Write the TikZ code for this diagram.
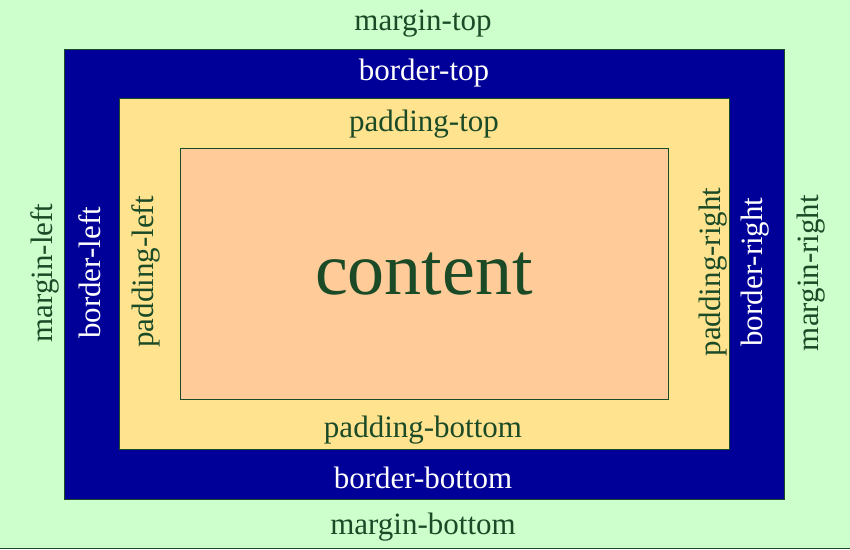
\documentclass[tikz,border=0pt]{standalone}
\usepackage{fontspec}
\setmainfont{Liberation Serif}
\definecolor{marginbg}{HTML}{CCFFCC}
\definecolor{borderbg}{HTML}{000099}
\definecolor{paddingbg}{HTML}{FFE38F}
\definecolor{contentbg}{HTML}{FFCC99}
\definecolor{ink}{HTML}{1B4A26}
\begin{document}
\begin{tikzpicture}[x=1pt,y=-1pt,
  boxline/.style={draw=ink,line width=1pt},
  lbl/.style={inner sep=0pt,text=ink,font=\fontsize{31}{34}\selectfont},
  wlbl/.style={lbl,text=white},
  bigtxt/.style={inner sep=0pt,text=ink,font=\fontsize{74}{80}\selectfont}]
  \useasboundingbox (0,0) rectangle (850,549);
  % margin area
  \fill[marginbg] (0,0) rectangle (850,549);
  \draw[ink,line width=1.2pt] (0,548.4) -- (850,548.4);
  % border, padding and content boxes
  \filldraw[boxline,fill=borderbg] (64.5,49.5) rectangle (784.5,499);
  \filldraw[boxline,fill=paddingbg] (119.5,98.5) rectangle (729.5,449);
  \filldraw[boxline,fill=contentbg] (180.5,148.5) rectangle (668.5,399);
  % labels
  \node[lbl]  (mt) at (423,24) {margin-top};
  \node[wlbl] (bt) at (424,73) {border-top};
  \node[lbl]  (pt) at (424,124) {padding-top};
  \node[bigtxt] (ct) at (424,274) {content};
  \node[lbl]  (pb) at (423,430) {padding-bottom};
  \node[wlbl] (bb) at (423,478) {border-bottom};
  \node[lbl]  (mb) at (423,527) {margin-bottom};
  \node[lbl,rotate=90]  (ml) at (45,273) {margin-left};
  \node[wlbl,rotate=90] (bl) at (90,273) {border-left};
  \node[lbl,rotate=90]  (pl) at (146,272) {padding-left};
  \node[lbl,rotate=90]  (pr) at (713,272) {padding-right};
  \node[wlbl,rotate=90] (br) at (755,272) {border-right};
  \node[lbl,rotate=90]  (mr) at (811,273) {margin-right};
\end{tikzpicture}
\end{document}
